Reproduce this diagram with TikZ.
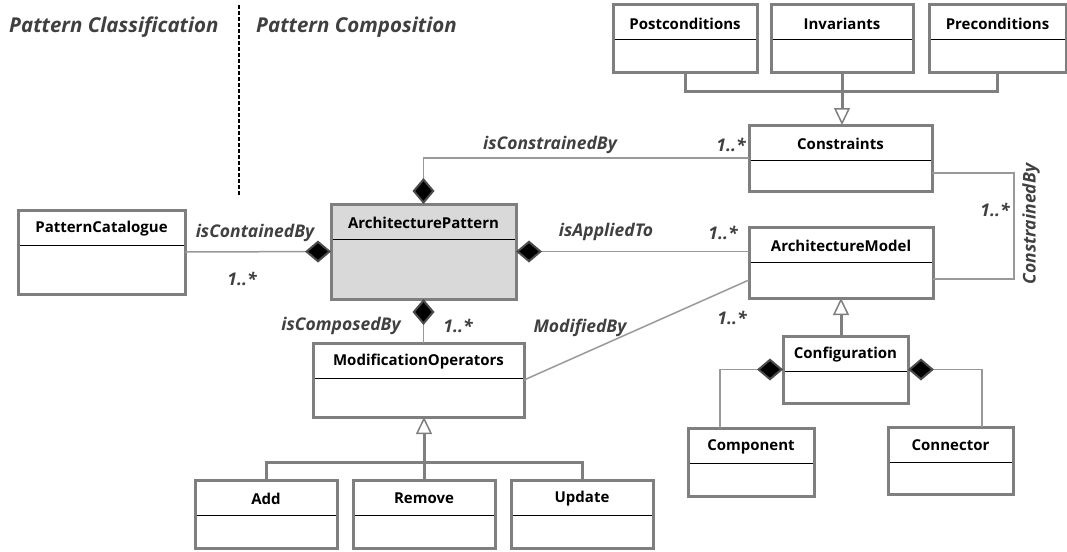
\documentclass[tikz,border=0pt]{standalone}
\usepackage{fontspec}
\setmainfont{Open Sans}
\usetikzlibrary{positioning, fit, arrows.meta}

\definecolor{boxgray}{HTML}{7F7F7F}
\definecolor{linegray}{HTML}{999999}
\definecolor{labelgray}{HTML}{404040}
\definecolor{apfill}{HTML}{D9D9D9}

\tikzset{
  classbox/.style={draw=boxgray, line width=3pt, fill=white, inner sep=0pt, outer sep=0pt},
  headline/.style={black, line width=1pt, shorten <=1.5pt, shorten >=1.5pt},
  classname/.style={font=\bfseries\fontsize{15}{18}\selectfont, inner sep=0pt},
  assoc/.style={draw=linegray, line width=1.5pt},
  gen/.style={draw=boxgray, line width=3pt},
  rolelabel/.style={font=\bfseries\itshape\fontsize{17.5}{20}\selectfont, text=labelgray, inner sep=0pt},
  sectiontitle/.style={rolelabel, font=\bfseries\itshape\fontsize{20.5}{24}\selectfont},
  CompDiamond/.tip={Diamond[length=26pt, width=22pt, fill=black, color=black!70, line width=2pt]},
  GenTriangle/.tip={Triangle[length=17pt, width=16pt, fill=white, color=boxgray, line width=1.5pt]},
}

% class box: [opts]{name}{title}{left}{top}{right}{bottom}
\newcommand{\umlclass}[7][]{%
  \node[classbox, #1, fit={(#4,#5) (#6,#7)}] (#2) {};
  \draw[headline] ([yshift=-35pt]#2.north west) -- ([yshift=-35pt]#2.north east);
  \node[classname] (#2-name) at ([yshift=-18.5pt]#2.north) {#3};
}

\begin{document}
\begin{tikzpicture}[x=1pt, y=-1pt]
  \useasboundingbox (0,0) rectangle (1067,551);

  % titles and divider
  \node[sectiontitle, anchor=west] (classif) at (9,27) {Pattern Classification};
  \node[sectiontitle, anchor=west] (compos) at (256,27) {Pattern Composition};
  \draw[black, line width=1.5pt, dash pattern=on 4pt off 2pt] (239,5) -- (239,195);

  % classes
  \umlclass{post}{Postconditions}{613}{5}{757}{72}
  \umlclass{inv}{Invariants}{771}{5}{913}{72}
  \umlclass{pre}{Preconditions}{929}{5}{1066}{72}
  \umlclass{cons}{Constraints}{749}{125}{932}{191}
  \umlclass{pcat}{PatternCatalogue}{18}{210}{185}{294}
  \umlclass[fill=apfill]{ap}{ArchitecturePattern}{331}{204}{516}{299}
  \umlclass{am}{ArchitectureModel}{749}{227}{933}{298}
  \umlclass{mod}{ModificationOperators}{313}{343}{524}{417}
  \umlclass{conf}{Configuration}{783}{336}{908}{403}
  \umlclass{compnt}{Component}{688}{428}{814}{496}
  \umlclass{connr}{Connector}{888}{427}{1013}{494}
  \umlclass{add}{Add}{195}{480}{337}{548}
  \umlclass{rem}{Remove}{353}{480}{495}{548}
  \umlclass{upd}{Update}{511}{480}{653}{548}

  % generalizations
  \draw[gen] (post.south) -- ++(0,19) -| (pre.south);
  \draw[gen, -GenTriangle] (inv.south) -- (inv.south |- cons.north);
  \draw[gen] (add.north) -- ++(0,-18) -| (upd.north);
  \draw[gen, -GenTriangle] (rem.north) -- (rem.north |- mod.south);
  \draw[gen, -GenTriangle] (am.south |- conf.north) -- (am.south);

  % associations
  \draw[assoc, -CompDiamond] (cons.west) -| (ap.north);
  \draw[assoc, -CompDiamond] (pcat.east) -- (ap.west);
  \draw[assoc, CompDiamond-] (ap.east) -- (ap.east -| am.west);
  \draw[assoc, CompDiamond-] (ap.south) -- (ap.south |- mod.north);
  \draw[assoc] ([yshift=-15pt]cons.east) -- ++(82,0) |- ([yshift=-16.5pt]am.east);
  \draw[assoc] ([yshift=-17.5pt]am.west) -- (mod.east);
  \draw[assoc, CompDiamond-] (conf.west) -| ([xshift=-31pt]compnt.north);
  \draw[assoc, CompDiamond-] (conf.east) -| ([xshift=31.5pt]connr.north);

  % role labels
  \node[rolelabel] (l-constr) at (550,145) {isConstrainedBy};
  \node[rolelabel] (m-constr) at (731,145) {1..*};
  \node[rolelabel] (l-contain) at (255,233) {isContainedBy};
  \node[rolelabel] (m-contain) at (242,279) {1..*};
  \node[rolelabel] (l-applied) at (606,232) {isAppliedTo};
  \node[rolelabel] (m-applied) at (723,233) {1..*};
  \node[rolelabel] (l-composed) at (341,326) {isComposedBy};
  \node[rolelabel] (m-composed) at (458,326) {1..*};
  \node[rolelabel] (l-modified) at (580,328) {ModifiedBy};
  \node[rolelabel] (m-modified) at (732,318) {1..*};
  \node[rolelabel, rotate=90] (l-cby) at (1031,224) {ConstrainedBy};
  \node[rolelabel] (m-cby) at (995,210) {1..*};
\end{tikzpicture}
\end{document}
